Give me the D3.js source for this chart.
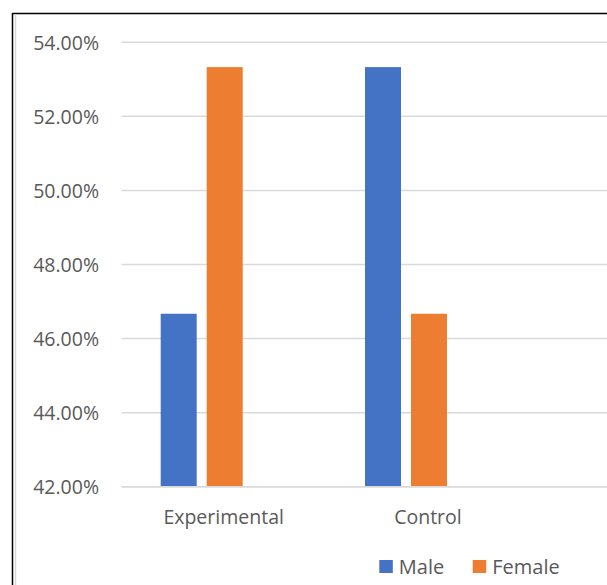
<!DOCTYPE html>
<html><head><meta charset="utf-8">
<script src="https://cdn.jsdelivr.net/npm/d3@7"></script>
<style>body{margin:0;background:#fff}svg{display:block}</style>
</head><body>
<script>
const categories = ["Experimental", "Control"];
const series = ["Male", "Female"];
const male = [46.67, 53.33];
const female = [53.33, 46.67];
const yTicks = [42, 44, 46, 48, 50, 52, 54];
const colors = ["#4472C4", "#ED7D31"];

const W = 607, H = 585;
const svg = d3.select("body").append("svg").attr("width", W).attr("height", H);
const font = "'Open Sans', 'Noto Sans', sans-serif";

// frame
svg.append("line").attr("x1", 12.5).attr("x2", W).attr("y1", 13.5).attr("y2", 13.5).attr("stroke", "#000").attr("stroke-width", 1.5);
svg.append("line").attr("x1", 12.5).attr("x2", 12.5).attr("y1", 13).attr("y2", H).attr("stroke", "#000").attr("stroke-width", 1.5);
svg.append("line").attr("x1", 15.5).attr("x2", 15.5).attr("y1", 14.5).attr("y2", H).attr("stroke", "#d9d9d9").attr("stroke-width", 1.5);

const plotLeft = 121.5, step = 204.3;
const y = d3.scaleLinear().domain([42, 54]).range([486.7, 42.3]);
// two real categories plus an empty trailing slot that is cropped by the picture edge
const x0 = d3.scaleBand().domain(categories.concat([" "])).range([plotLeft, plotLeft + step * 3]).padding(0);
const bw = x0.bandwidth();
const x1 = d3.scaleBand().domain(series).range([bw * 39.2 / 204.3, bw * 121.2 / 204.3]).paddingInner(10 / 46).paddingOuter(0);

// gridlines
svg.append("g").selectAll("line").data(yTicks).join("line")
  .attr("x1", plotLeft).attr("x2", W)
  .attr("y1", d => y(d)).attr("y2", d => y(d))
  .attr("stroke", "#d9d9d9").attr("stroke-width", 1.5);

// y labels
const yAxis = d3.axisLeft(y).tickValues(yTicks).tickFormat(d => d.toFixed(2) + "%").tickSize(0).tickPadding(0);
const gy = svg.append("g").attr("transform", "translate(99,0)").call(yAxis);
gy.select(".domain").remove();
gy.selectAll("text").attr("font-family", font).attr("font-size", 19.5).attr("fill", "#595959").attr("dy", "0.35em");

// bars
const data = categories.map((c, i) => ({ c, vals: [male[i], female[i]] }));
const groups = svg.append("g").selectAll("g").data(data).join("g")
  .attr("transform", d => `translate(${x0(d.c)},0)`);
groups.selectAll("rect").data(d => d.vals.map((v, j) => ({ s: series[j], v, j }))).join("rect")
  .attr("x", d => x1(d.s)).attr("width", x1.bandwidth())
  .attr("y", d => y(d.v)).attr("height", d => y(42) - y(d.v))
  .attr("fill", d => colors[d.j]);

// baseline redraw over bars
svg.append("line").attr("x1", plotLeft).attr("x2", W).attr("y1", y(42)).attr("y2", y(42)).attr("stroke", "#d9d9d9").attr("stroke-width", 1.5);

// x labels
const xAxis = d3.axisBottom(x0).tickSize(0).tickPadding(0);
const gx = svg.append("g").attr("transform", "translate(0,524)").call(xAxis);
gx.select(".domain").remove();
gx.selectAll("text").attr("font-family", font).attr("font-size", 19.5).attr("fill", "#595959").attr("dy", 0);

// legend
const legendX = [379.3, 472.7];
const lg = svg.append("g").selectAll("g").data(series).join("g")
  .attr("transform", (d, i) => `translate(${legendX[i]},560)`);
lg.append("rect").attr("width", 13.5).attr("height", 13).attr("fill", (d, i) => colors[i]);
lg.append("text").attr("x", 19.5).attr("y", 13.5).text(d => d)
  .attr("font-family", font).attr("font-size", 20).attr("fill", "#595959");
</script>
</body></html>
